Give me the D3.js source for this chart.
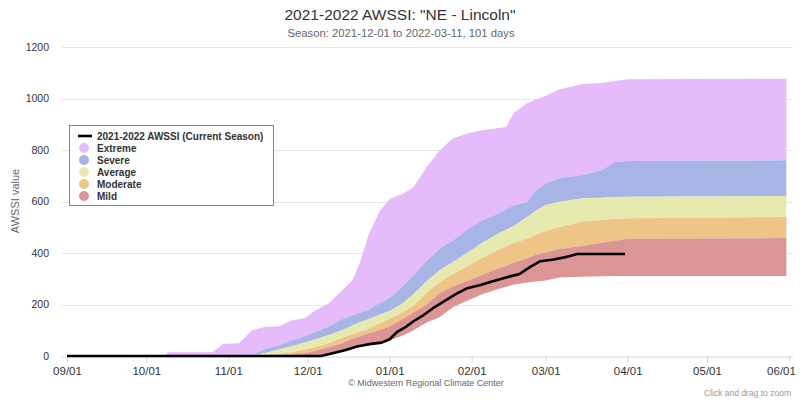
<!DOCTYPE html>
<html>
<head>
<meta charset="utf-8">
<script src="https://cdn.jsdelivr.net/npm/d3@7"></script>
<style>
  html, body { margin: 0; padding: 0; background: #fff; }
  svg { display: block; font-family: "Liberation Sans", Arial, sans-serif; }
</style>
</head>
<body>
<svg id="chart" width="800" height="400"></svg>
<script>
// ---------- DATA ----------
const bandDates = ["2021-09-01","2021-10-08","2021-10-09","2021-10-26","2021-10-30","2021-11-05","2021-11-10","2021-11-15","2021-11-20","2021-11-25","2021-11-30","2021-12-04","2021-12-09","2021-12-14","2021-12-18","2021-12-21","2021-12-24","2021-12-28","2022-01-01","2022-01-06","2022-01-10","2022-01-15","2022-01-20","2022-01-25","2022-01-31","2022-02-05","2022-02-11","2022-02-14","2022-02-17","2022-02-22","2022-02-25","2022-03-01","2022-03-06","2022-03-15","2022-03-22","2022-03-27","2022-04-01","2022-05-31"];
const bandMin = [0,0,0,0,0,0,0,0,0,0,0,0,5,15,28,35,42,50,60,80,100,130,151,190,217,240,260,268,278,285,289,293,305,308,310,311,311,311];
const bandP20 = [0,0,0,0,0,0,0,0,0,5,12,20,35,50,68,78,88,100,115,145,170,200,245,270,295,315,340,350,362,380,392,402,415,428,440,448,455,458];
const bandP40 = [0,0,0,0,0,0,0,0,8,15,25,35,50,70,85,95,105,125,145,170,195,245,287,318,352,381,412,425,440,455,470,485,500,522,528,532,535,540];
const bandP60 = [0,0,0,0,0,0,2,12,25,38,52,65,82,100,118,132,143,160,175,205,240,290,334,365,405,440,475,490,505,540,562,586,598,613,615,617,618,621];
const bandP80 = [0,0,0,0,0,0,5,27,42,60,78,95,115,143,158,170,180,205,225,270,315,370,418,450,495,525,553,570,585,598,640,670,690,703,720,752,757,760];
const bandMax = [0,0,15,15,47,50,100,114,116,138,148,178,205,255,295,370,470,560,610,630,655,734,800,846,866,877,885,889,945,982,995,1010,1035,1056,1060,1068,1075,1077];

const seasonDates = ["2021-09-01","2021-12-06","2021-12-10","2021-12-15","2021-12-20","2021-12-25","2021-12-29","2022-01-01","2022-01-04","2022-01-07","2022-01-10","2022-01-14","2022-01-18","2022-01-22","2022-01-26","2022-01-30","2022-02-04","2022-02-09","2022-02-14","2022-02-19","2022-02-23","2022-02-27","2022-03-04","2022-03-09","2022-03-13","2022-03-31"];
const seasonValues = [0,0,10,22,38,47,52,65,95,112,135,160,190,215,240,262,275,290,305,318,345,368,375,385,396,396];

const xTickDates = ["2021-09-01","2021-10-01","2021-11-01","2021-12-01","2022-01-01","2022-02-01","2022-03-01","2022-04-01","2022-05-01","2022-06-01"];
const xTickLabels = ["09/01","10/01","11/01","12/01","01/01","02/01","03/01","04/01","05/01","06/01"];
const yTicks = [0,200,400,600,800,1000,1200];

const bandNames = ["Extreme","Severe","Average","Moderate","Mild"];
const bandColors = ["#e6bbfc","#a7b5e6","#e6eaae","#eec487","#da9594"];
const seasonName = "2021-2022 AWSSI (Current Season)";
const titleText = "2021-2022 AWSSI: \"NE - Lincoln\"";
const subtitleText = "Season: 2021-12-01 to 2022-03-11, 101 days";

// ---------- CHART ----------
const parse = d3.timeParse("%Y-%m-%d");
const svg = d3.select("#chart");

const x = d3.scaleTime()
  .domain([parse("2021-09-01"), parse("2022-06-01")])
  .range([67, 789]);
const y = d3.scaleLinear().domain([0, 1200]).range([356, 47]);

// grid lines
svg.append("g").selectAll("line").data(yTicks.filter(d => d > 0)).join("line")
  .attr("x1", 62).attr("x2", 793)
  .attr("y1", d => Math.round(y(d)) + 0.5).attr("y2", d => Math.round(y(d)) + 0.5)
  .attr("stroke", "#e6e6e6").attr("stroke-width", 1);

// bands
const bounds = [bandMin, bandP20, bandP40, bandP60, bandP80, bandMax];
const bandRows = bandDates.map((d, i) => ({ date: parse(d), v: bounds.map(b => b[i]) }));
// extreme = p80..max, severe = p60..p80, average = p40..p60, moderate = p20..p40, mild = min..p20
bandNames.forEach((name, k) => {
  const lo = 4 - k, hi = 5 - k;
  const area = d3.area()
    .x(d => x(d.date))
    .y0(d => y(d.v[lo]))
    .y1(d => y(d.v[hi]));
  svg.append("path")
    .datum(bandRows)
    .attr("d", area)
    .attr("fill", bandColors[k])
    .attr("stroke", "none");
});

// x axis
const xAxis = d3.axisBottom(x)
  .tickValues(xTickDates.map(parse))
  .tickFormat((d, i) => xTickLabels[i])
  .tickSize(6).tickSizeOuter(0);
const gx = svg.append("g").attr("transform", "translate(0,356.5)").call(xAxis);
gx.select(".domain").attr("stroke", "#ccd6eb").attr("d", "M62,0.5H793");
gx.selectAll(".tick line").attr("stroke", "#ccd6eb");
gx.selectAll(".tick text").attr("fill", "#333").attr("font-size", 11.5).attr("dy", "0.85em")
  .attr("font-family", "Liberation Sans, Arial, sans-serif");
// keep the last label inside the picture, as the reference does
gx.selectAll(".tick text").filter((d, i) => i === xTickLabels.length - 1).attr("dx", -8);

// y axis labels
const yAxis = d3.axisLeft(y).tickValues(yTicks).tickFormat(d3.format("d")).tickSize(0).tickPadding(0);
const gy = svg.append("g").attr("transform", "translate(49,0)").call(yAxis);
gy.select(".domain").remove();
gy.selectAll(".tick text").attr("fill", "#333").attr("font-size", 10.5)
  .attr("font-family", "Liberation Sans, Arial, sans-serif");

// current season line
const seasonRows = seasonDates.map((d, i) => ({ date: parse(d), v: seasonValues[i] }));
svg.append("path")
  .datum(seasonRows)
  .attr("d", d3.line().x(d => x(d.date)).y(d => y(d.v)))
  .attr("fill", "none").attr("stroke", "#000").attr("stroke-width", 2.6)
  .attr("stroke-linejoin", "round");

// titles
svg.append("text").attr("x", 400).attr("y", 20).attr("text-anchor", "middle")
  .attr("font-size", 15.5).attr("fill", "#333").text(titleText);
svg.append("text").attr("x", 401).attr("y", 37).attr("text-anchor", "middle")
  .attr("font-size", 11.3).attr("fill", "#666").text(subtitleText);

// y axis title
svg.append("text").attr("transform", "translate(19,201) rotate(-90)")
  .attr("text-anchor", "middle").attr("font-size", 11).attr("fill", "#666").text("AWSSI value");

// credits
svg.append("text").attr("x", 426).attr("y", 386).attr("text-anchor", "middle")
  .attr("font-size", 9).attr("fill", "#666").text("\u00a9 Midwestern Regional Climate Center");
svg.append("text").attr("x", 791).attr("y", 396).attr("text-anchor", "end")
  .attr("font-size", 8.5).attr("fill", "#999").text("Click and drag to zoom");

// legend
const lg = svg.append("g");
lg.append("rect").attr("x", 69.5).attr("y", 125.5).attr("width", 204).attr("height", 80)
  .attr("fill", "#fff").attr("stroke", "#888").attr("stroke-width", 1);
const items = [{ name: seasonName, type: "line" }].concat(bandNames.map((n, i) => ({ name: n, type: "dot", color: bandColors[i] })));
items.forEach((it, i) => {
  const cy = 136 + i * 12;
  if (it.type === "line") {
    lg.append("line").attr("x1", 78).attr("x2", 92).attr("y1", cy).attr("y2", cy)
      .attr("stroke", "#000").attr("stroke-width", 2.6);
  } else {
    lg.append("circle").attr("cx", 84).attr("cy", cy).attr("r", 5).attr("fill", it.color);
  }
  lg.append("text").attr("x", 97).attr("y", cy + 3.6).attr("font-size", 10)
    .attr("font-weight", "bold").attr("fill", "#333").text(it.name);
});
</script>
</body>
</html>
